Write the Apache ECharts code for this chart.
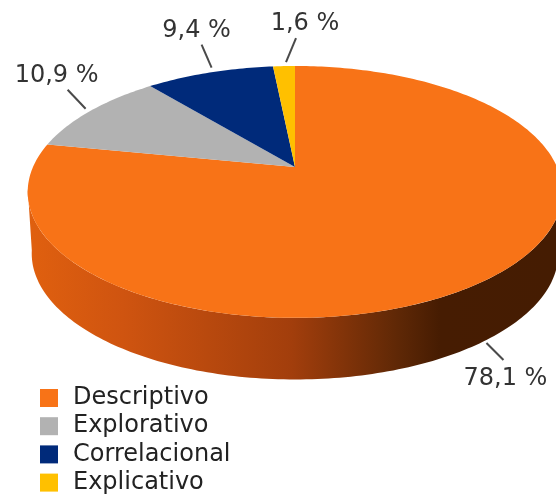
<!DOCTYPE html>
<html><head><meta charset="utf-8">
<style>html,body{margin:0;padding:0;background:#fff}#c{width:556px;height:497px}</style>
<script src="https://cdn.jsdelivr.net/npm/echarts@6/dist/echarts.min.js"></script>
</head><body><div id="c"></div>
<script>
const categories = ['Descriptivo', 'Explorativo', 'Correlacional', 'Explicativo'];
const values = [78.1, 10.9, 9.4, 1.6];
const colors = ['#f87317', '#b2b2b2', '#002a7a', '#ffc000'];
// leader: gap from rim (gx,gy), then dx,dy, then text centre offset from the leader end
const leaders = [[-2, 4, 17, 17, 2, 19], [-5, -2, -18, -19, -11, -14], [2, -5, -10, -23, -5, -14], [2, -4, 10, -24, 9, -14]];

// perspective disc: homography of the unit circle
const geo = { cx: 295, cy: 167, a: 262, b: 121, k: -0.198, depth: 61, shrink: 0.985 };
const total = values.reduce((s, v) => s + v, 0);
function rim(deg, depth) {
  const t = deg * Math.PI / 180, X = Math.sin(t), Y = -Math.cos(t), w = 1 + geo.k * Y;
  const s = depth ? geo.shrink : 1;
  return [geo.cx + s * geo.a * X / w, geo.cy + (depth || 0) + geo.b * Y / w + (depth ? (1 - s) * 40 : 0)];
}
function arc(from, to, depth) {
  const pts = [], n = Math.max(2, Math.ceil(Math.abs(to - from)));
  for (let i = 0; i <= n; i++) pts.push(rim(from + (to - from) * i / n, depth));
  return pts;
}
const wallStops = [[0, '#e0600f'], [0.18, '#cf5410'], [0.5, '#a23e0c'], [0.7, '#5f2806'], [0.78, '#461c02'], [1, '#451c02']];
function renderer(idx) {
  return function (params, api) {
    const v = api.value(0);
    let start = 0;
    for (let i = 0; i < idx; i++) start += values[i];
    const a0 = start / total * 360, a1 = (start + v) / total * 360, mid = (a0 + a1) / 2;
    const children = [];
    const f0 = Math.max(a0, 100), f1 = Math.min(a1, 260);
    if (f1 > f0) {
      const grad = new echarts.graphic.LinearGradient(28, 0, 556, 0,
        wallStops.map(s => ({ offset: s[0], color: s[1] })), true);
      children.push({ type: 'polygon', shape: { points: arc(f0, f1, 0).concat(arc(f1, f0, geo.depth)) }, style: { fill: grad } });
    }
    children.push({ type: 'polygon', shape: { points: [[geo.cx, geo.cy]].concat(arc(a0, a1, 0)) }, style: { fill: colors[idx] } });
    const onWall = mid > 100 && mid < 260;
    const r = rim(mid, onWall ? geo.depth : 0), l = leaders[idx];
    const p = [r[0] + l[0], r[1] + l[1]];
    const e = [p[0] + l[2], p[1] + l[3]];
    children.push({ type: 'line', shape: { x1: p[0], y1: p[1], x2: e[0], y2: e[1] }, style: { stroke: '#4a4a4a', lineWidth: 2 } });
    children.push({ type: 'text', style: { text: String(v).replace('.', ',') + ' %', x: e[0] + l[4], y: e[1] + l[5], align: 'center', verticalAlign: 'middle', fill: '#333', font: '24px "DejaVu Sans"' } });
    return { type: 'group', children };
  };
}
const chart = echarts.init(document.getElementById('c'), null, { renderer: 'canvas' });
chart.setOption({
  animation: false,
  backgroundColor: '#fff',
  legend: {
    orient: 'vertical', left: 40, top: 386, height: 140, width: 400, itemWidth: 18, itemHeight: 18, itemGap: 4.2,
    icon: 'rect', selectedMode: false, padding: 0,
    data: categories,
    textStyle: { fontFamily: 'DejaVu Sans', fontSize: 24, lineHeight: 18, height: 18, color: '#222', padding: [0, 0, 0, 10] }
  },
  series: categories.map((name, i) => ({
    type: 'custom', name, coordinateSystem: 'none', silent: true, z: 2 + i,
    itemStyle: { color: colors[i] },
    data: [[values[i]]],
    renderItem: renderer(i)
  }))
});
</script></body></html>
